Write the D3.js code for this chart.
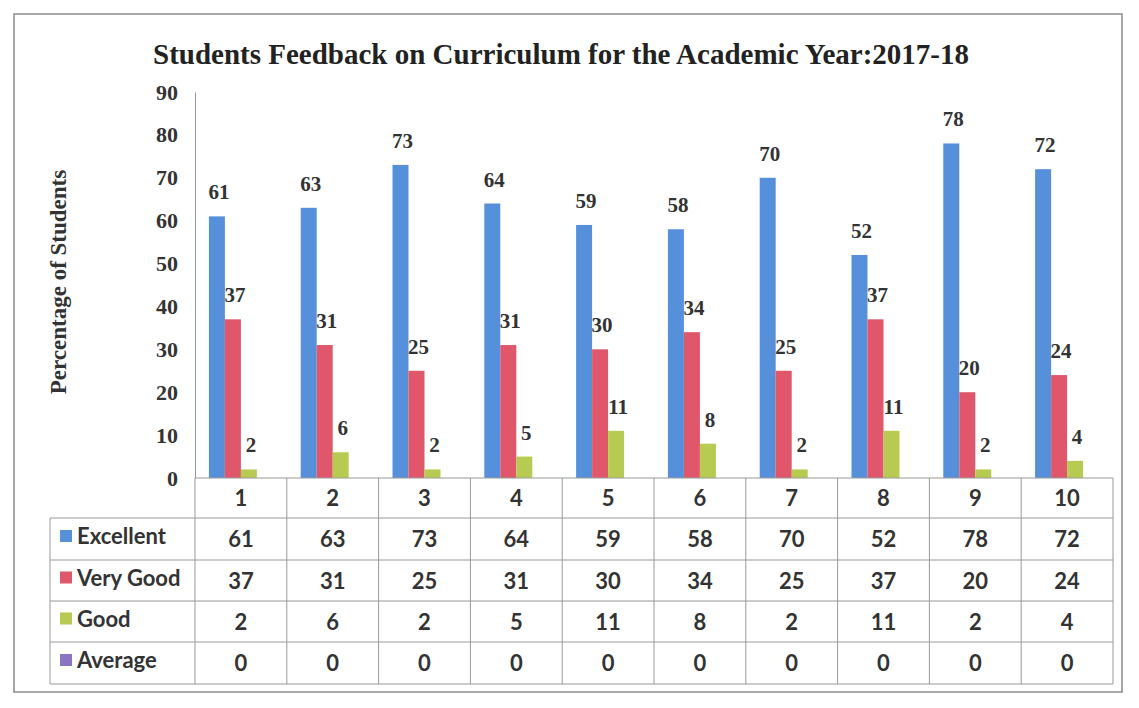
<!DOCTYPE html>
<html><head><meta charset="utf-8">
<script src="https://cdn.jsdelivr.net/npm/d3@7"></script>
<style>body{margin:0;background:#fff}svg{display:block}</style>
</head><body>
<script>
const categories = ["1","2","3","4","5","6","7","8","9","10"];
const seriesNames = ["Excellent","Very Good","Good","Average"];
const excellent = [61,63,73,64,59,58,70,52,78,72];
const veryGood = [37,31,25,31,30,34,25,37,20,24];
const good = [2,6,2,5,11,8,2,11,2,4];
const average = [0,0,0,0,0,0,0,0,0,0];
const yTicks = [0,10,20,30,40,50,60,70,80,90];
const colors = ["#5690DA","#E0566A","#B7CB52","#8C74C4"];
const seriesValues = [excellent, veryGood, good, average];

const W = 1139, H = 708;
const svg = d3.select("body").append("svg").attr("width", W).attr("height", H);
svg.append("rect").attr("x",14).attr("y",14).attr("width",1108).attr("height",678)
  .attr("fill","#fff").attr("stroke","#8a8a8a").attr("stroke-width",1.5);

const x0 = 195, x1 = 1113, yTop = 92, yBase = 478;
const x = d3.scaleBand().domain(categories).range([x0, x1]).paddingInner(0).paddingOuter(0);
const y = d3.scaleLinear().domain([0, 90]).range([yBase, yTop]);
const xs = d3.scaleBand().domain(seriesNames).range([0, 64]);

svg.append("text").attr("x", 561).attr("y", 64).attr("text-anchor","middle")
  .attr("font-family","Liberation Serif").attr("font-weight","bold").attr("font-size",29)
  .attr("fill","#222").text("Students Feedback on Curriculum for the Academic Year:2017-18");

// y axis
const yAxis = d3.axisLeft(y).tickValues(yTicks).tickSize(0).tickPadding(17);
const ga = svg.append("g").attr("transform",`translate(${x0},0)`).call(yAxis);
ga.select(".domain").attr("stroke","#999");
ga.selectAll("text").attr("font-family","Liberation Serif").attr("font-weight","bold")
  .attr("font-size",22).attr("fill","#333");

svg.append("text").attr("transform","translate(66,282) rotate(-90)").attr("text-anchor","middle")
  .attr("font-family","Liberation Serif").attr("font-weight","bold").attr("font-size",23)
  .attr("fill","#333").text("Percentage of Students");

// bars
seriesNames.forEach((s, si) => {
  const g = svg.append("g");
  g.selectAll("rect").data(seriesValues[si]).join("rect")
    .attr("x", (d,i) => x(categories[i]) + x.bandwidth()/2 - 32 + xs(s))
    .attr("width", xs.bandwidth())
    .attr("y", d => y(d)).attr("height", d => yBase - y(d))
    .attr("fill", colors[si]);
  if (si < 3) {
    g.selectAll("text").data(seriesValues[si]).join("text")
      .attr("x", (d,i) => x(categories[i]) + x.bandwidth()/2 - 32 + xs(s) + xs.bandwidth()/2 + 2)
      .attr("y", d => y(d) - 17)
      .attr("text-anchor","middle")
      .attr("font-family","Liberation Serif").attr("font-weight","bold").attr("font-size",21)
      .attr("fill","#333").text(d => d);
  }
});

// data table
const rowH = [478, 518, 560, 601, 642, 684];
const tableLeft = 50;
const lineC = "#9a9a9a";
const tg = svg.append("g");
tg.append("line").attr("x1", x0).attr("x2", x1).attr("y1", rowH[0]).attr("y2", rowH[0]).attr("stroke", lineC);
for (let r = 1; r < rowH.length; r++) {
  tg.append("line").attr("x1", tableLeft).attr("x2", x1).attr("y1", rowH[r]).attr("y2", rowH[r]).attr("stroke", lineC);
}
categories.forEach(c => {
  tg.append("line").attr("x1", x(c)).attr("x2", x(c)).attr("y1", rowH[0]).attr("y2", rowH[5]).attr("stroke", lineC);
});
tg.append("line").attr("x1", x1).attr("x2", x1).attr("y1", rowH[0]).attr("y2", rowH[5]).attr("stroke", lineC);
tg.append("line").attr("x1", tableLeft).attr("x2", tableLeft).attr("y1", rowH[1]).attr("y2", rowH[5]).attr("stroke", lineC);

const tf = "Lato";
tg.selectAll("text.cat").data(categories).join("text").attr("class","cat")
  .attr("x", c => x(c) + x.bandwidth()/2).attr("y", (rowH[0]+rowH[1])/2 + 8)
  .attr("text-anchor","middle").attr("font-family",tf).attr("font-weight","bold").attr("font-size",22)
  .attr("fill","#333").text(c => c);
seriesNames.forEach((s, si) => {
  const cy = (rowH[si+1] + rowH[si+2]) / 2;
  tg.append("rect").attr("x", 60).attr("y", cy - 9).attr("width", 12).attr("height", 12).attr("fill", colors[si]);
  tg.append("text").attr("x", 77).attr("y", cy + 5).attr("font-family",tf).attr("font-weight","bold")
    .attr("font-size",22).attr("fill","#333").text(s);
  tg.selectAll("text.v"+si).data(seriesValues[si]).join("text").attr("class","v"+si)
    .attr("x", (d,i) => x(categories[i]) + x.bandwidth()/2).attr("y", cy + 8)
    .attr("text-anchor","middle").attr("font-family",tf).attr("font-weight","bold").attr("font-size",22)
    .attr("fill","#333").text(d => d);
});
</script>
</body></html>
